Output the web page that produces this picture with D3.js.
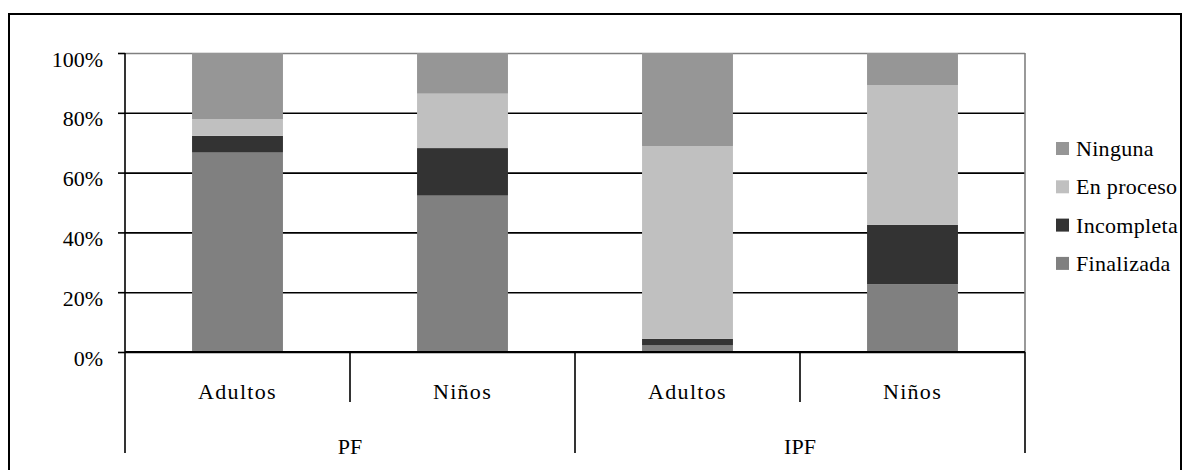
<!DOCTYPE html>
<html>
<head>
<meta charset="utf-8">
<script src="https://cdn.jsdelivr.net/npm/d3@7/dist/d3.min.js"></script>
<style>
  html, body { margin: 0; padding: 0; background: #fff; }
  svg { display: block; }
</style>
</head>
<body>
<svg id="chart" width="1184" height="470"></svg>
<script>
// Sub-categories (lower axis row) and their groups (upper axis row)
const categories = ["Adultos", "Niños", "Adultos", "Niños"];
const groups = ["PF", "IPF"];
const groupOf = [0, 0, 1, 1];

// Percent of each bar, bottom to top
const finalizada = [66.7, 52.3, 2.2, 22.7];
const incompleta = [5.6, 15.9, 2.2, 19.8];
const enProceso  = [5.6, 18.2, 64.5, 46.8];
const ninguna    = [22.1, 13.6, 31.1, 10.7];

const seriesNames = ["Finalizada", "Incompleta", "En proceso", "Ninguna"];
const seriesColors = ["#808080", "#333333", "#c0c0c0", "#969696"];
const yTicks = [0, 20, 40, 60, 80, 100];

const FONT = "'Liberation Serif', 'Times New Roman', Tinos, 'DejaVu Serif', serif";

const rows = categories.map((c, i) => ({
  key: i,
  "Finalizada": finalizada[i],
  "Incompleta": incompleta[i],
  "En proceso": enProceso[i],
  "Ninguna": ninguna[i]
}));

const svg = d3.select("#chart");
const plot = { left: 125, right: 1025, top: 53, bottom: 352 };
const axisBottom = 453;

function label(sel) {
  return sel.style("font-family", FONT).style("font-size", "22px").attr("fill", "#000");
}

// Outer frame
svg.append("rect")
  .attr("x", 9).attr("y", 14)
  .attr("width", 1172).attr("height", 480)
  .attr("fill", "none").attr("stroke", "#000").attr("stroke-width", 2);

const x = d3.scaleBand()
  .domain(rows.map(d => d.key))
  .range([plot.left, plot.right])
  .paddingInner(0.596)
  .paddingOuter(0.298);

const y = d3.scaleLinear().domain([0, 100]).range([plot.bottom, plot.top]);

// Horizontal gridlines
const grid = svg.append("g").attr("transform", `translate(${plot.left},0)`)
  .call(d3.axisLeft(y).tickValues(yTicks).tickSize(-(plot.right - plot.left)).tickFormat(""));
grid.select(".domain").remove();
grid.selectAll(".tick line")
  .attr("stroke", d => d === 100 ? "#808080" : "#000")
  .attr("stroke-width", 1.6);

// Right border of the plot area
svg.append("line")
  .attr("x1", plot.right).attr("x2", plot.right)
  .attr("y1", y(100)).attr("y2", y(0))
  .attr("stroke", "#808080").attr("stroke-width", 1.6);

// Stacked bars
const stack = d3.stack().keys(seriesNames);
const stacked = stack(rows);
svg.append("g").selectAll("g")
  .data(stacked)
  .join("g")
  .attr("fill", (d, i) => seriesColors[i])
  .selectAll("rect")
  .data(d => d)
  .join("rect")
  .attr("x", d => x(d.data.key))
  .attr("width", x.bandwidth())
  .attr("y", d => y(d[1]))
  .attr("height", d => y(d[0]) - y(d[1]));

// Y axis with percent labels (sitting slightly below their gridlines)
const yAxis = svg.append("g").attr("transform", `translate(${plot.left},0)`)
  .call(d3.axisLeft(y).tickValues(yTicks).tickSize(7).tickPadding(15)
    .tickFormat(d => d + "%"));
yAxis.select(".domain").remove();
yAxis.selectAll(".tick line").attr("stroke", "#000").attr("stroke-width", 1.6);
yAxis.selectAll(".tick text").call(label).attr("dy", 13);

// Axis lines: vertical y-axis down through the category rows, baseline
svg.append("line")
  .attr("x1", plot.left).attr("x2", plot.left)
  .attr("y1", y(100)).attr("y2", axisBottom)
  .attr("stroke", "#000").attr("stroke-width", 1.6);
svg.append("line")
  .attr("x1", plot.left).attr("x2", plot.right)
  .attr("y1", y(0)).attr("y2", y(0))
  .attr("stroke", "#000").attr("stroke-width", 2);

// Multi-level category axis
const step = x.step();
const catAxis = svg.append("g");
categories.forEach((c, i) => {
  const cx = x(i) + x.bandwidth() / 2;
  catAxis.append("text")
    .attr("x", cx).attr("y", 399)
    .attr("text-anchor", "middle")
    .call(label)
    .style("letter-spacing", "1.3px")
    .text(c);
});
// Dividers between sub-categories and between groups
for (let i = 1; i <= categories.length; i++) {
  const bx = x(i - 1) + x.bandwidth() / 2 + step / 2;
  const groupEdge = i === categories.length || groupOf[i] !== groupOf[i - 1];
  catAxis.append("line")
    .attr("x1", bx).attr("x2", bx)
    .attr("y1", y(0)).attr("y2", groupEdge ? axisBottom : 402)
    .attr("stroke", "#000").attr("stroke-width", 1.6);
}
groups.forEach((g, gi) => {
  const idx = groupOf.map((v, i) => v === gi ? i : -1).filter(i => i >= 0);
  const x0 = x(idx[0]) + x.bandwidth() / 2 - step / 2;
  const x1 = x(idx[idx.length - 1]) + x.bandwidth() / 2 + step / 2;
  catAxis.append("text")
    .attr("x", (x0 + x1) / 2).attr("y", 454)
    .attr("text-anchor", "middle")
    .call(label)
    .text(g);
});

// Legend, top entry is the top of the stack
const legendOrder = seriesNames.slice().reverse();
const legend = svg.append("g").attr("transform", "translate(1056,142)");
legendOrder.forEach((name, i) => {
  const row = legend.append("g").attr("transform", `translate(0,${i * 38.3})`);
  row.append("rect")
    .attr("width", 13).attr("height", 13)
    .attr("fill", seriesColors[seriesNames.indexOf(name)]);
  row.append("text")
    .attr("x", 20).attr("y", 14)
    .call(label)
    .style("letter-spacing", "0.3px")
    .text(name);
});
</script>
</body>
</html>
